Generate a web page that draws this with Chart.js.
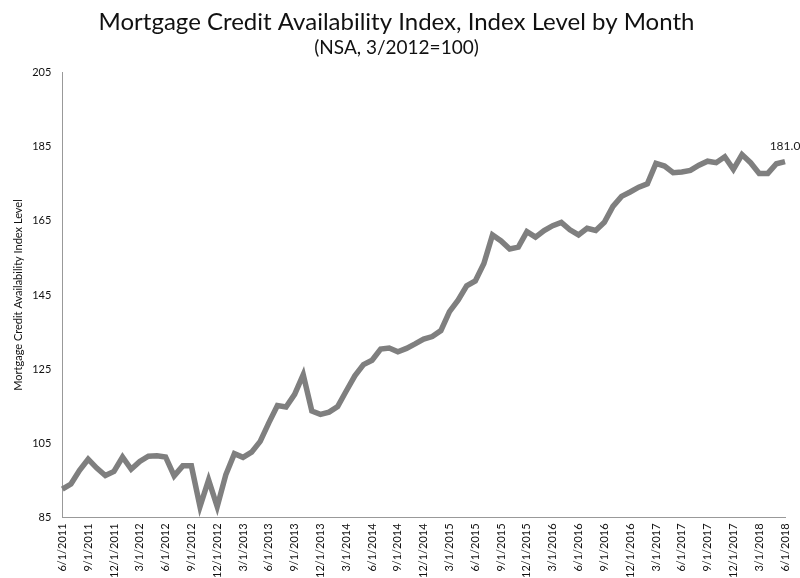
<!DOCTYPE html><html><head><meta charset="utf-8">
<script src="https://cdn.jsdelivr.net/npm/chart.js@4"></script>
<style>body{margin:0;background:#fff}#w{width:800px;height:578px}</style></head><body><div id="w"><canvas id="c"></canvas></div>
<script>
const values=[92.6,94.0,97.7,100.7,98.3,96.3,97.4,101.3,98.0,100.1,101.5,101.6,101.3,96.2,98.9,98.9,87.9,95.1,87.9,96.5,102.2,101.2,102.6,105.5,110.5,115.2,114.8,118.2,123.5,113.7,112.8,113.4,114.9,119.1,123.2,
126.2,127.4,130.4,130.7,129.7,130.6,131.8,133.1,133.8,135.4,140.5,143.6,147.5,148.8,153.5,161.2,159.6,157.4,157.9,162.1,160.6,162.4,
163.7,164.6,162.6,161.2,163.0,162.4,164.6,168.9,171.6,172.8,174.1,175.0,180.5,179.8,178.0,178.2,178.6,180.0,181.1,180.7,182.3,178.9,182.9,180.7,177.8,177.8,180.4,181.0];
const categories=[];
for(let i=0;i<values.length;i++){const m=(5+i)%12+1,y=2011+Math.floor((5+i)/12);categories.push(m+'/1/'+y);}
const yTicks=[85,105,125,145,165,185,205];
const lastLabel='181.0';
const F='Lato, "Open Sans", sans-serif';
const endLabel={id:'endLabel',afterDatasetsDraw(ch){const m=ch.getDatasetMeta(0).data;const p=m[m.length-1];const c=ch.ctx;c.save();c.font='12px '+F;c.fillStyle='#222';c.textAlign='center';c.fillText(lastLabel,p.x,p.y-12);c.restore();}};
new Chart(document.getElementById('c'),{type:'line',data:{labels:categories,datasets:[{data:values,borderColor:'#7f7f7f',borderWidth:5.5,pointRadius:0,tension:0}]},
options:{responsive:true,maintainAspectRatio:false,animation:false,layout:{padding:{left:8,right:15,top:0,bottom:0}},
plugins:{legend:{display:false},tooltip:{enabled:false},title:{display:true,text:['Mortgage Credit Availability Index, Index Level by Month'],font:{family:F,size:24,weight:'normal'},color:'#111',padding:{top:8,bottom:0}},
subtitle:{display:true,text:'(NSA, 3/2012=100)',font:{family:F,size:19},color:'#111',padding:{bottom:13}}},
scales:{x:{grid:{display:false,drawTicks:true,tickLength:6},border:{color:'#999'},ticks:{padding:0,autoSkip:false,maxRotation:90,minRotation:90,font:{family:F,size:11},color:'#111',callback:(v,i)=>i%3===0?categories[i]:null}},
y:{min:85,max:205,afterBuildTicks:a=>{a.ticks=yTicks.map(v=>({value:v}))},grid:{display:false,drawTicks:true},border:{color:'#999'},ticks:{font:{family:F,size:11},color:'#111'},title:{display:true,text:'Mortgage Credit Availability Index Level',font:{family:F,size:11},color:'#111'}}}},plugins:[endLabel]});
</script></body></html>
